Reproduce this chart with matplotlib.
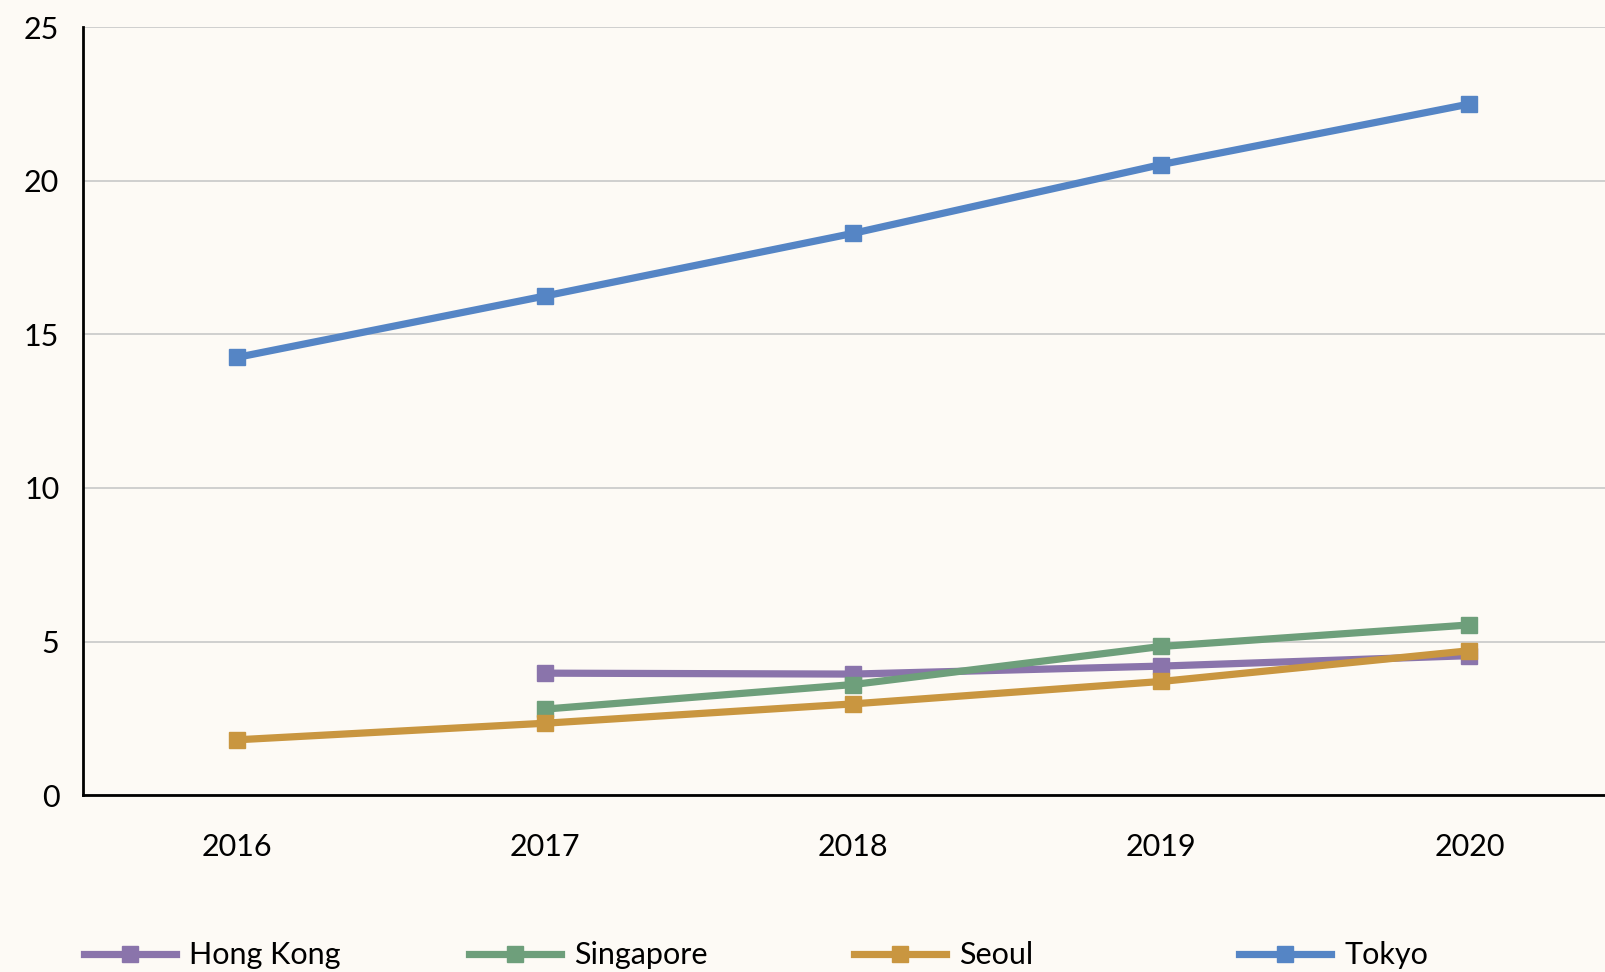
import matplotlib
matplotlib.use('Agg')

import matplotlib.pyplot as plt
from matplotlib.lines import Line2D

plt.rcParams['font.family'] = ['Lato', 'DejaVu Sans']

# data
years = ['2016', '2017', '2018', '2019', '2020']
hong_kong = [None, 3.97, 3.94, 4.2, 4.54]
singapore = [None, 2.8, 3.6, 4.84, 5.54]
seoul = [1.8, 2.34, 2.97, 3.7, 4.7]
tokyo = [14.25, 16.25, 18.29, 20.53, 22.5]
series_names = ['Hong Kong', 'Singapore', 'Seoul', 'Tokyo']
colors = ['#8A74AB', '#6E9F7B', '#C99640', '#5585C5']
yticks = [0, 5, 10, 15, 20, 25]

bg = '#FDFAF5'
fig = plt.figure(figsize=(16.05, 9.72), dpi=100, facecolor=bg)
ax = fig.add_axes([0.0517, 0.182, 0.9483, 0.790], facecolor=bg)

x = list(range(len(years)))
all_series = [hong_kong, singapore, seoul, tokyo]
for vals, name, c in zip(all_series, series_names, colors):
    xs = [i for i, v in zip(x, vals) if v is not None]
    ys = [v for v in vals if v is not None]
    ax.plot(xs, ys, color=c, lw=5.2, marker='s', markersize=11.5,
            solid_capstyle='butt', label=name, zorder=3)

ax.set_xlim(-0.5, 4.44)
ax.set_ylim(0, 25)
ax.set_xticks(x)
ax.set_xticklabels(years)
ax.set_yticks(yticks)
ax.tick_params(axis='both', length=0, labelsize=22, colors='black')
ax.tick_params(axis='x', pad=27)
ax.tick_params(axis='y', pad=17)

ax.grid(axis='y', color='#C8C8C8', lw=1.2, zorder=0)
for s in ['top', 'right']:
    ax.spines[s].set_visible(False)
for s in ['left', 'bottom']:
    ax.spines[s].set_color('black')
    ax.spines[s].set_linewidth(2)

# legend: one entry per slot, evenly spaced across the bottom
slots = [84, 469, 854, 1239]
for name, c, px in zip(series_names, colors, slots):
    h = Line2D([], [], color=c, lw=5.2, marker='s', markersize=11.5)
    leg = fig.legend([h], [name], loc='center left',
                     bbox_to_anchor=(px / 1605, 0.017), frameon=False,
                     fontsize=22, handlelength=3.0, handletextpad=0.45,
                     borderpad=0, borderaxespad=0)

fig.savefig('out.png', dpi=100, facecolor=bg)
